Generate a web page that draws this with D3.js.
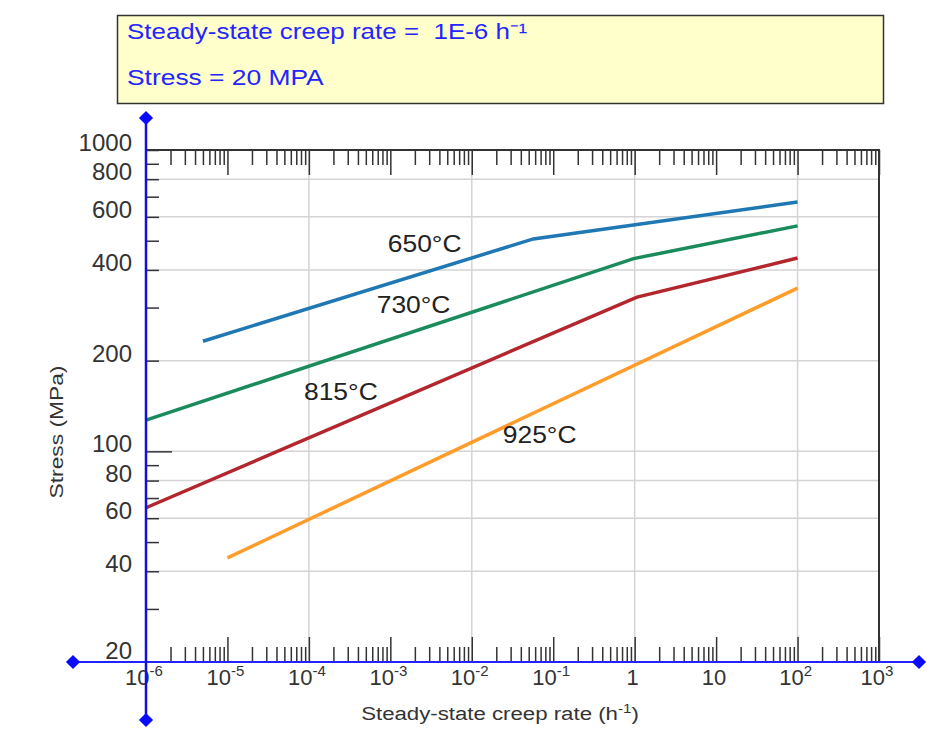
<!DOCTYPE html>
<html lang="en">
<head>
<meta charset="UTF-8">
<script src="https://cdn.jsdelivr.net/npm/d3@7"></script>
<title>Creep rate vs stress</title>
<style>
    body { margin: 0; background: #fff; }
    svg text { font-family: "Liberation Sans", Arial, sans-serif; }
</style>
</head>
<body>
<script>

// ---- data ----
var rateExps = [-6, -5, -4, -3, -2, -1, 0, 1, 2, 3];
var rateGrid = [1e-4, 1e-2, 1, 1e2];
var stressLabels = [1000, 800, 600, 400, 200, 100, 80, 60, 40, 20];
var stressTicks = [30, 40, 50, 60, 70, 80, 90, 100, 200, 300, 400, 500, 600, 700, 800, 900, 1000];
var stressGrid = [800, 600, 400, 200, 100, 80, 60, 40];

var temps = ["650°C", "730°C", "815°C", "925°C"];
var curve650 = [[5e-6, 232], [0.057, 507], [100, 672]];
var curve730 = [[1e-6, 127], [0.97, 436], [100, 560]];
var curve815 = [[1e-6, 65], [1.07, 325], [100, 438]];
var curve925 = [[1e-5, 44.3], [100, 348]];
// where each temperature label sits (rate, stress)
var labelAt = [[9.3e-4, 460], [6.8e-4, 288], [8.7e-5, 148], [0.024, 107]];

var colors = ["#1f77b4", "#1a8c5b", "#b3262d", "#ff9c2a"];

var width = 942, height = 743;
var pl = 146, pr = 879, pt = 150, pb = 662;

var svg = d3.select("body").append("svg")
    .attr("width", width)
    .attr("height", height);

var x = d3.scaleLog().domain([1e-6, 1e3]).range([pl, pr]);
var y = d3.scaleLog().domain([20, 1000]).range([pb, pt]);

// ---- info box ----
svg.append("rect")
    .attr("x", 117.5).attr("y", 15.5)
    .attr("width", 766).attr("height", 88)
    .attr("fill", "#ffffcc")
    .attr("stroke", "#333").attr("stroke-width", 1.5);

var boxText = svg.append("g").attr("fill", "#2424ff").style("font-size", "22px");
boxText.append("text")
    .attr("transform", "translate(127,39) scale(1.18,1)")
    .style("white-space", "pre")
    .text("Steady-state creep rate =  1E-6 h⁻¹");
boxText.append("text")
    .attr("transform", "translate(127,85) scale(1.2,1)")
    .text("Stress = 20 MPA");

// ---- grid ----
var grid = svg.append("g").attr("stroke", "#d4d4d4").attr("stroke-width", 1.5);
grid.selectAll(".gx").data(rateGrid).enter().append("line")
    .attr("x1", d => x(d)).attr("x2", d => x(d))
    .attr("y1", pt).attr("y2", pb);
grid.selectAll(".gy").data(stressGrid).enter().append("line")
    .attr("x1", pl).attr("x2", pr)
    .attr("y1", d => y(d)).attr("y2", d => y(d));

// ---- tick marks (axes) ----
var minor = [], major = [];
rateExps.forEach(function(e) {
    if (e > -6) major.push(Math.pow(10, e));
    if (e < 3) for (var m = 2; m <= 9; m++) minor.push(m * Math.pow(10, e));
});

function styleAxis(g) {
    g.select(".domain").remove();
    g.selectAll(".tick line").attr("stroke", "#333").attr("stroke-width", 1.5);
}

svg.append("g").attr("transform", `translate(0,${pb})`)
    .call(d3.axisBottom(x).tickValues(minor).tickSize(-15).tickFormat(""))
    .call(styleAxis);
svg.append("g").attr("transform", `translate(0,${pb})`)
    .call(d3.axisBottom(x).tickValues(major).tickSize(-25).tickFormat(""))
    .call(styleAxis);
svg.append("g").attr("transform", `translate(0,${pt})`)
    .call(d3.axisTop(x).tickValues(minor).tickSize(-15).tickFormat(""))
    .call(styleAxis);
svg.append("g").attr("transform", `translate(0,${pt})`)
    .call(d3.axisTop(x).tickValues(major).tickSize(-25).tickFormat(""))
    .call(styleAxis);

svg.append("g").attr("transform", `translate(${pl},0)`)
    .call(d3.axisLeft(y).tickValues(stressTicks.filter(d => d != 100)).tickSize(-13).tickFormat(""))
    .call(styleAxis);
svg.append("g").attr("transform", `translate(${pl},0)`)
    .call(d3.axisLeft(y).tickValues([100]).tickSize(-26).tickFormat(""))
    .call(styleAxis);

// frame: top and right
svg.append("path")
    .attr("d", `M${pl},${pt}H${pr}V${pb}`)
    .attr("fill", "none").attr("stroke", "#333").attr("stroke-width", 2);

// ---- tick labels ----
var tickText = svg.append("g").attr("fill", "#333");
tickText.selectAll(".yl").data(stressLabels).enter().append("text")
    .attr("x", 132)
    .attr("y", d => y(d) + (d == 20 ? -3 : 1))
    .attr("text-anchor", "end")
    .style("font-size", "24px")
    .text(d => d);

var xl = tickText.selectAll(".xl").data(rateExps).enter().append("text")
    .attr("x", d => x(Math.pow(10, d)) - 2)
    .attr("y", 685)
    .attr("text-anchor", "middle")
    .style("font-size", "22px");
xl.append("tspan").text(d => d == 0 ? "1" : "10");
xl.filter(d => d != 0 && d != 1).append("tspan")
    .attr("dy", -9)
    .style("font-size", "15px")
    .text(d => d);

// axis titles
tickText.append("text")
    .attr("transform", "translate(500,720) scale(1.17,1)")
    .attr("text-anchor", "middle")
    .style("font-size", "19px")
    .call(t => {
        t.append("tspan").text("Steady-state creep rate (h");
        t.append("tspan").attr("dy", -7).style("font-size", "13px").text("-1");
        t.append("tspan").attr("dy", 7).text(")");
    });
tickText.append("text")
    .attr("transform", "translate(63,432) rotate(-90) scale(1.2,1)")
    .attr("text-anchor", "middle")
    .style("font-size", "19px")
    .text("Stress (MPa)");

// ---- curves ----
var line = d3.line().x(d => x(d[0])).y(d => y(d[1]));
var curves = [curve650, curve730, curve815, curve925];
svg.append("g").selectAll("path").data(curves).enter().append("path")
    .attr("d", line)
    .attr("fill", "none")
    .attr("stroke", (d, i) => colors[i])
    .attr("stroke-width", 3.5);

svg.append("g").attr("fill", "#222").selectAll("text").data(temps).enter().append("text")
    .attr("transform", (d, i) => `translate(${x(labelAt[i][0])},${y(labelAt[i][1])}) scale(1.15,1)`)
    .style("font-size", "23px")
    .text(d => d);

// ---- blue axes with diamond ends ----
svg.append("line")
    .attr("x1", 73).attr("x2", 919).attr("y1", pb).attr("y2", pb)
    .attr("stroke", "#2222ff").attr("stroke-width", 2);
svg.append("line")
    .attr("x1", pl).attr("x2", pl).attr("y1", 118).attr("y2", 720)
    .attr("stroke", "#1010d8").attr("stroke-width", 2.5);

var diamond = d3.symbol(d3.symbolSquare, 100);
var ends = [[73, pb], [919, pb], [pl, 118], [pl, 720]];
svg.append("g").selectAll("path").data(ends).enter().append("path")
    .attr("d", diamond)
    .attr("transform", d => `translate(${d[0]},${d[1]}) rotate(45)`)
    .attr("fill", "#0a0aff");

</script>
</body>
</html>
